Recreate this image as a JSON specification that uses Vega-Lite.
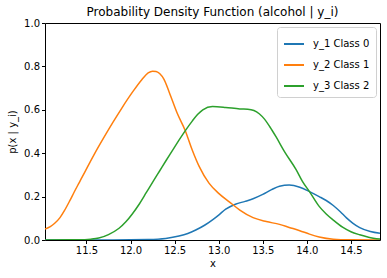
{
  "$schema": "https://vega.github.io/schema/vega-lite/v6.json",
  "width": 335,
  "height": 217,
  "autosize": {"type": "none"},
  "padding": {"left": 45, "top": 23, "right": 7, "bottom": 38},
  "title": {"text": "Probability Density Function (alcohol | y_i)", "font": "DejaVu Sans", "fontSize": 12, "fontWeight": "normal", "color": "#000", "offset": -1},
  "config": {
    "font": "DejaVu Sans",
    "view": {"stroke": "#000", "strokeWidth": 1},
    "axis": {"grid": false, "domain": false, "tickColor": "#000", "tickSize": 3.5, "labelFontSize": 10, "labelColor": "#000", "titleFontSize": 10, "titleFontWeight": "normal", "titleColor": "#000", "labelPadding": 2}
  },
  "data": {"values": [
    {"series": "y_1 Class 0", "x": 11.03, "p": 0.0},
    {"series": "y_1 Class 0", "x": 11.8, "p": 0.0},
    {"series": "y_1 Class 0", "x": 12.2, "p": 0.002},
    {"series": "y_1 Class 0", "x": 12.4, "p": 0.007},
    {"series": "y_1 Class 0", "x": 12.55, "p": 0.018},
    {"series": "y_1 Class 0", "x": 12.65, "p": 0.03},
    {"series": "y_1 Class 0", "x": 12.74, "p": 0.046},
    {"series": "y_1 Class 0", "x": 12.84, "p": 0.068},
    {"series": "y_1 Class 0", "x": 12.93, "p": 0.093},
    {"series": "y_1 Class 0", "x": 13.0, "p": 0.115},
    {"series": "y_1 Class 0", "x": 13.08, "p": 0.142},
    {"series": "y_1 Class 0", "x": 13.19, "p": 0.165},
    {"series": "y_1 Class 0", "x": 13.3, "p": 0.178},
    {"series": "y_1 Class 0", "x": 13.39, "p": 0.19},
    {"series": "y_1 Class 0", "x": 13.5, "p": 0.21},
    {"series": "y_1 Class 0", "x": 13.6, "p": 0.232},
    {"series": "y_1 Class 0", "x": 13.69, "p": 0.248},
    {"series": "y_1 Class 0", "x": 13.8, "p": 0.253},
    {"series": "y_1 Class 0", "x": 13.92, "p": 0.243},
    {"series": "y_1 Class 0", "x": 14.03, "p": 0.223},
    {"series": "y_1 Class 0", "x": 14.14, "p": 0.2},
    {"series": "y_1 Class 0", "x": 14.22, "p": 0.182},
    {"series": "y_1 Class 0", "x": 14.3, "p": 0.159},
    {"series": "y_1 Class 0", "x": 14.38, "p": 0.13},
    {"series": "y_1 Class 0", "x": 14.45, "p": 0.102},
    {"series": "y_1 Class 0", "x": 14.52, "p": 0.078},
    {"series": "y_1 Class 0", "x": 14.6, "p": 0.057},
    {"series": "y_1 Class 0", "x": 14.72, "p": 0.039},
    {"series": "y_1 Class 0", "x": 14.83, "p": 0.031},

    {"series": "y_2 Class 1", "x": 11.03, "p": 0.051},
    {"series": "y_2 Class 1", "x": 11.09, "p": 0.062},
    {"series": "y_2 Class 1", "x": 11.14, "p": 0.077},
    {"series": "y_2 Class 1", "x": 11.2, "p": 0.103},
    {"series": "y_2 Class 1", "x": 11.25, "p": 0.135},
    {"series": "y_2 Class 1", "x": 11.31, "p": 0.18},
    {"series": "y_2 Class 1", "x": 11.36, "p": 0.22},
    {"series": "y_2 Class 1", "x": 11.42, "p": 0.266},
    {"series": "y_2 Class 1", "x": 11.48, "p": 0.312},
    {"series": "y_2 Class 1", "x": 11.59, "p": 0.396},
    {"series": "y_2 Class 1", "x": 11.7, "p": 0.474},
    {"series": "y_2 Class 1", "x": 11.8, "p": 0.542},
    {"series": "y_2 Class 1", "x": 11.9, "p": 0.607},
    {"series": "y_2 Class 1", "x": 12.02, "p": 0.68},
    {"series": "y_2 Class 1", "x": 12.13, "p": 0.74},
    {"series": "y_2 Class 1", "x": 12.2, "p": 0.77},
    {"series": "y_2 Class 1", "x": 12.25, "p": 0.778},
    {"series": "y_2 Class 1", "x": 12.29, "p": 0.777},
    {"series": "y_2 Class 1", "x": 12.33, "p": 0.767},
    {"series": "y_2 Class 1", "x": 12.38, "p": 0.74},
    {"series": "y_2 Class 1", "x": 12.44, "p": 0.68},
    {"series": "y_2 Class 1", "x": 12.53, "p": 0.584},
    {"series": "y_2 Class 1", "x": 12.62, "p": 0.505},
    {"series": "y_2 Class 1", "x": 12.7, "p": 0.415},
    {"series": "y_2 Class 1", "x": 12.78, "p": 0.338},
    {"series": "y_2 Class 1", "x": 12.89, "p": 0.262},
    {"series": "y_2 Class 1", "x": 13.0, "p": 0.215},
    {"series": "y_2 Class 1", "x": 13.12, "p": 0.176},
    {"series": "y_2 Class 1", "x": 13.24, "p": 0.138},
    {"series": "y_2 Class 1", "x": 13.39, "p": 0.103},
    {"series": "y_2 Class 1", "x": 13.54, "p": 0.085},
    {"series": "y_2 Class 1", "x": 13.69, "p": 0.072},
    {"series": "y_2 Class 1", "x": 13.8, "p": 0.058},
    {"series": "y_2 Class 1", "x": 13.92, "p": 0.043},
    {"series": "y_2 Class 1", "x": 14.03, "p": 0.027},
    {"series": "y_2 Class 1", "x": 14.14, "p": 0.014},
    {"series": "y_2 Class 1", "x": 14.3, "p": 0.004},
    {"series": "y_2 Class 1", "x": 14.5, "p": 0.001},
    {"series": "y_2 Class 1", "x": 14.83, "p": 0.0},

    {"series": "y_3 Class 2", "x": 11.03, "p": 0.0},
    {"series": "y_3 Class 2", "x": 11.4, "p": 0.001},
    {"series": "y_3 Class 2", "x": 11.55, "p": 0.004},
    {"series": "y_3 Class 2", "x": 11.64, "p": 0.009},
    {"series": "y_3 Class 2", "x": 11.75, "p": 0.025},
    {"series": "y_3 Class 2", "x": 11.87, "p": 0.054},
    {"series": "y_3 Class 2", "x": 11.95, "p": 0.085},
    {"series": "y_3 Class 2", "x": 12.02, "p": 0.12},
    {"series": "y_3 Class 2", "x": 12.1, "p": 0.166},
    {"series": "y_3 Class 2", "x": 12.18, "p": 0.219},
    {"series": "y_3 Class 2", "x": 12.26, "p": 0.272},
    {"series": "y_3 Class 2", "x": 12.33, "p": 0.318},
    {"series": "y_3 Class 2", "x": 12.4, "p": 0.364},
    {"series": "y_3 Class 2", "x": 12.48, "p": 0.415},
    {"series": "y_3 Class 2", "x": 12.55, "p": 0.46},
    {"series": "y_3 Class 2", "x": 12.62, "p": 0.503},
    {"series": "y_3 Class 2", "x": 12.7, "p": 0.548},
    {"series": "y_3 Class 2", "x": 12.76, "p": 0.578},
    {"series": "y_3 Class 2", "x": 12.82, "p": 0.6},
    {"series": "y_3 Class 2", "x": 12.93, "p": 0.615},
    {"series": "y_3 Class 2", "x": 13.08, "p": 0.611},
    {"series": "y_3 Class 2", "x": 13.24, "p": 0.604},
    {"series": "y_3 Class 2", "x": 13.33, "p": 0.603},
    {"series": "y_3 Class 2", "x": 13.4, "p": 0.597},
    {"series": "y_3 Class 2", "x": 13.46, "p": 0.582},
    {"series": "y_3 Class 2", "x": 13.52, "p": 0.557},
    {"series": "y_3 Class 2", "x": 13.58, "p": 0.522},
    {"series": "y_3 Class 2", "x": 13.65, "p": 0.476},
    {"series": "y_3 Class 2", "x": 13.75, "p": 0.405},
    {"series": "y_3 Class 2", "x": 13.88, "p": 0.323},
    {"series": "y_3 Class 2", "x": 13.95, "p": 0.27},
    {"series": "y_3 Class 2", "x": 14.03, "p": 0.223},
    {"series": "y_3 Class 2", "x": 14.14, "p": 0.155},
    {"series": "y_3 Class 2", "x": 14.22, "p": 0.12},
    {"series": "y_3 Class 2", "x": 14.3, "p": 0.092},
    {"series": "y_3 Class 2", "x": 14.41, "p": 0.058},
    {"series": "y_3 Class 2", "x": 14.5, "p": 0.038},
    {"series": "y_3 Class 2", "x": 14.6, "p": 0.024},
    {"series": "y_3 Class 2", "x": 14.7, "p": 0.013},
    {"series": "y_3 Class 2", "x": 14.83, "p": 0.004}
  ]},
  "mark": {"type": "line", "interpolate": "monotone", "strokeWidth": 1.5, "clip": true},
  "encoding": {
    "x": {"field": "x", "type": "quantitative", "title": "x",
      "scale": {"domain": [11.03, 14.83], "nice": false, "zero": false},
      "axis": {"values": [11.5, 12.0, 12.5, 13.0, 13.5, 14.0, 14.5], "format": ".1f", "titlePadding": 3}},
    "y": {"field": "p", "type": "quantitative", "title": "p(x | y_i)",
      "scale": {"domain": [0, 1], "nice": false},
      "axis": {"values": [0, 0.2, 0.4, 0.6, 0.8, 1.0], "format": ".1f", "titlePadding": 6}},
    "color": {"field": "series", "type": "nominal", "title": null,
      "scale": {"domain": ["y_1 Class 0", "y_2 Class 1", "y_3 Class 2"], "range": ["#1f77b4", "#ff7f0e", "#2ca02c"]},
      "legend": {"orient": "top-right", "offset": 4, "fillColor": "#fff", "strokeColor": "#d0d0d0", "cornerRadius": 3, "padding": 6, "symbolType": "stroke", "symbolSize": 400, "symbolStrokeWidth": 2, "labelFontSize": 10, "labelColor": "#000", "rowPadding": 5, "labelOffset": 8}}
  }
}
